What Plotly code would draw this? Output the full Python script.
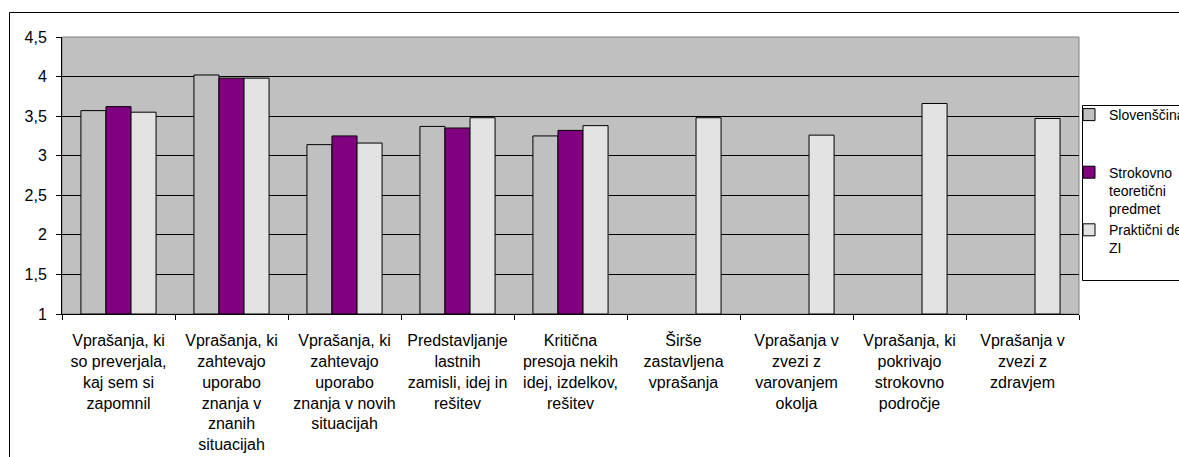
import plotly.graph_objects as go

categories = [
    "Vprašanja, ki<br>so preverjala,<br>kaj sem si<br>zapomnil",
    "Vprašanja, ki<br>zahtevajo<br>uporabo<br>znanja v<br>znanih<br>situacijah",
    "Vprašanja, ki<br>zahtevajo<br>uporabo<br>znanja v novih<br>situacijah",
    "Predstavljanje<br>lastnih<br>zamisli, idej in<br>rešitev",
    "Kritična<br>presoja nekih<br>idej, izdelkov,<br>rešitev",
    "Širše<br>zastavljena<br>vprašanja",
    "Vprašanja v<br>zvezi z<br>varovanjem<br>okolja",
    "Vprašanja, ki<br>pokrivajo<br>strokovno<br>področje",
    "Vprašanja v<br>zvezi z<br>zdravjem",
]

slovenscina = [3.57, 4.02, 3.14, 3.37, 3.25, None, None, None, None]
strokovno = [3.62, 3.98, 3.25, 3.35, 3.32, None, None, None, None]
prakticni = [3.55, 3.98, 3.16, 3.48, 3.38, 3.48, 3.26, 3.66, 3.47]

series_names = [
    "Slovenščina<br> <br> ",
    "Strokovno<br>teoretični<br>predmet",
    "Praktični del<br>ZI",
]
series_colors = ["#C0C0C0", "#800080", "#E3E3E3"]

y_tick_vals = [1, 1.5, 2, 2.5, 3, 3.5, 4, 4.5]
y_tick_text = ["1", "1,5", "2", "2,5", "3", "3,5", "4", "4,5"]

FONT = "Liberation Sans, Arial, sans-serif"
BASE = 1  # bars rise from the axis minimum

fig = go.Figure()
for name, vals, col in zip(series_names, [slovenscina, strokovno, prakticni], series_colors):
    fig.add_trace(go.Bar(
        x=categories,
        y=[None if v is None else v - BASE for v in vals],
        base=BASE,
        name=name,
        customdata=vals,
        hovertemplate="%{customdata}<extra></extra>",
        marker=dict(color=col, line=dict(color="black", width=1)),
    ))

W, H = 1179, 457
L, T = 62, 37
R = W - 1079
B = H - 314
pw, ph = W - L - R, H - T - B

def px(x):  # page x -> paper
    return (x - L) / pw

def py(y):  # page y -> paper
    return (H - B - y) / ph

fig.update_layout(
    width=W, height=H,
    margin=dict(l=L, r=R, t=T, b=B, autoexpand=False),
    paper_bgcolor="white",
    plot_bgcolor="#C0C0C0",
    barmode="group",
    bargap=0.335,
    bargroupgap=0,
    font=dict(family=FONT, size=16, color="black"),
    showlegend=True,
    legend=dict(
        x=px(1069), y=py(99), xanchor="left", yanchor="top",
        bgcolor="rgba(0,0,0,0)", borderwidth=0,
        font=dict(family=FONT, size=14, color="black"),
        valign="top", traceorder="normal",
        itemwidth=30,
    ),
    xaxis=dict(
        type="category",
        showline=True, linecolor="black", linewidth=1,
        ticks="outside", ticklen=5, tickcolor="black", tickson="boundaries",
        showgrid=False,
        tickfont=dict(family=FONT, size=16, color="black"),
        tickangle=0,
        ticklabelstandoff=12,
    ),
    yaxis=dict(
        range=[1, 4.5],
        tickvals=y_tick_vals, ticktext=y_tick_text,
        showline=True, linecolor="black", linewidth=1,
        ticks="outside", ticklen=5, tickcolor="black",
        showgrid=True, gridcolor="#000000", gridwidth=1,
        zeroline=False,
        tickfont=dict(family=FONT, size=16, color="black"),
        ticklabelstandoff=6,
    ),
    shapes=[
        # outer chart frame
        dict(type="rect", xref="paper", yref="paper",
             x0=px(9.5), x1=px(1200), y0=py(480), y1=py(12.5),
             line=dict(color="black", width=1), fillcolor="rgba(0,0,0,0)", layer="below"),
        # plot area border
        dict(type="rect", xref="paper", yref="paper",
             x0=0, x1=1, y0=0, y1=1,
             line=dict(color="#808080", width=1), fillcolor="rgba(0,0,0,0)", layer="below"),
        # legend box
        dict(type="rect", xref="paper", yref="paper",
             x0=px(1082.5), x1=px(1200), y0=py(280.5), y1=py(105.5),
             line=dict(color="black", width=1), fillcolor="white", layer="above"),
    ],
)

fig.write_html(
    "out.html",
    config={"displayModeBar": False},
    post_script="document.body.style.margin='0';document.body.style.overflow='hidden';",
)
